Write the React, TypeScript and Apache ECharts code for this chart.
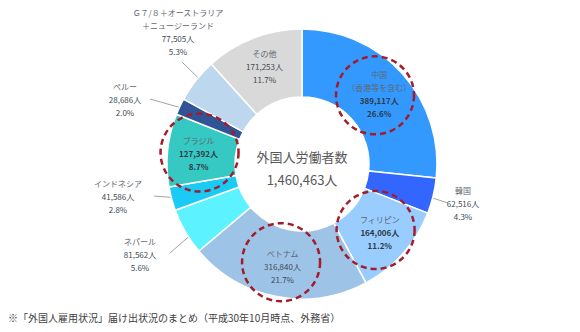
import React, { useEffect, useRef } from 'react';
import * as echarts from 'echarts';

// ---- data ----
const categories = [
  '中国\n（香港等を含む）',
  '韓国',
  'フィリピン',
  'ベトナム',
  'ネパール',
  'インドネシア',
  'ブラジル',
  'ペルー',
  'Ｇ７/８＋オーストラリア\n＋ニュージーランド',
  'その他',
];
const workers = [389117, 62516, 164006, 316840, 81562, 41586, 127392, 28686, 77505, 171253];
const shares = [26.6, 4.3, 11.2, 21.7, 5.6, 2.8, 8.7, 2.0, 5.3, 11.7];
const centerTitle = '外国人労働者数';
const unit = '人';
const footnote = '※「外国人雇用状況」届け出状況のまとめ（平成30年10月時点、外務省）';
const circledNames = ['中国\n（香港等を含む）', 'フィリピン', 'ベトナム', 'ブラジル'];

// ---- styles / layout ----
const COLORS = ['#3399FF', '#3366FF', '#99CCFF', '#9DC3E6', '#5CF2FF', '#1ACBF5', '#36C9C3', '#2F5597', '#BDD7EE', '#D9D9D9'];
const BOLD_NUM = ['中国\n（香港等を含む）', 'フィリピン', 'ブラジル'];
const FONT = "'Noto Sans CJK JP', 'Noto Sans', sans-serif";
const CX = 302;
const CY = 164;
const R0 = 67;
const R1 = 135;
const OUTSIDE: Record<string, { x: number; y: number; lx: number; ly: number; r: number }> = {
  '韓国': { x: 463, y: 203, lx: 448, ly: 203, r: 103 },
  'ネパール': { x: 140, y: 254, lx: 170, ly: 253, r: 103 },
  'インドネシア': { x: 118, y: 196, lx: 154, ly: 196, r: 131 },
  'ペルー': { x: 125, y: 99, lx: 150, ly: 99, r: 130 },
  'Ｇ７/８＋オーストラリア\n＋ニュージーランド': { x: 178, y: 32, lx: 182, ly: 62, r: 102 },
};

const total = workers.reduce((a, b) => a + b, 0);
function midPoint(i: number, r: number): [number, number] {
  const before = workers.slice(0, i).reduce((a, b) => a + b, 0);
  const a = ((before + workers[i] / 2) / total) * 2 * Math.PI;
  return [CX + r * Math.sin(a), CY - r * Math.cos(a)];
}

export default function App() {
  const ref = useRef<HTMLDivElement>(null);
  useEffect(() => {
    if (!ref.current) return;
    const chart = echarts.init(ref.current, undefined, { renderer: 'svg' });
    const circles = circledNames.map((n) => {
      const i = categories.indexOf(n);
      const [x, y] = midPoint(i, (R0 + R1) / 2);
      return {
        type: 'circle',
        shape: { cx: x - 2, cy: y - 1, r: 39 },
        style: { fill: 'none', stroke: '#A31C2B', lineWidth: 2.5, lineDash: [6, 4] },
        z: 100,
      };
    });
    chart.setOption({
      animation: false,
      backgroundColor: '#fff',
      textStyle: { fontFamily: FONT },
      graphic: [
        ...circles,
        {
          type: 'text',
          x: CX,
          y: CY - 8,
          style: { text: centerTitle, fill: '#595959', fontSize: 13, fontFamily: FONT, align: 'center', verticalAlign: 'middle' },
          z: 100,
        },
        {
          type: 'text',
          x: CX,
          y: CY + 15,
          style: { text: total.toLocaleString('en-US') + unit, fill: '#595959', fontSize: 13, fontFamily: FONT, align: 'center', verticalAlign: 'middle' },
          z: 100,
        },
        {
          type: 'text',
          x: 8,
          y: 317,
          style: { text: footnote, fill: '#404040', fontSize: 10, fontFamily: FONT, align: 'left', verticalAlign: 'middle' },
          z: 100,
        },
      ],
      series: [
        {
          type: 'pie',
          center: [CX, CY],
          radius: [R0, R1],
          startAngle: 90,
          clockwise: true,
          avoidLabelOverlap: false,
          itemStyle: { borderColor: '#ffffff', borderWidth: 1.5 },
          label: {
            show: true,
            position: 'inside',
            fontFamily: FONT,
            formatter: (p: any) => {
              const i = p.dataIndex;
              const numStyle = BOLD_NUM.includes(categories[i]) ? 'vb' : 'v';
              return `{n|${categories[i]}}\n{${numStyle}|${workers[i].toLocaleString('en-US')}${unit}}\n{${numStyle}|${shares[i].toFixed(1)}%}`;
            },
            rich: {
              n: { fontSize: 8, color: '#5f6670', lineHeight: 13, fontFamily: FONT },
              v: { fontSize: 8, color: '#404a55', lineHeight: 13, fontFamily: FONT },
              vb: { fontSize: 8, color: '#2f3a48', lineHeight: 13, fontWeight: 'bold', fontFamily: FONT },
            },
          },
          labelLine: { show: true, length: 5, length2: 5, lineStyle: { color: '#8c8c8c', width: 0.8 } },
          labelLayout: (p: any) => {
            const name = categories[p.dataIndex];
            const o = OUTSIDE[name];
            if (!o) return {};
            return {
              x: o.x,
              y: o.y,
              align: 'center',
              verticalAlign: 'middle',
              labelLinePoints: [[o.lx, o.ly], midPoint(p.dataIndex, o.r)],
            };
          },
          data: categories.map((name, i) => ({
            name,
            value: workers[i],
            itemStyle: { color: COLORS[i] },
            label: OUTSIDE[name] ? { position: 'outside' } : { position: 'inside' },
          })),
        },
      ],
    });
    return () => chart.dispose();
  }, []);
  return <div ref={ref} style={{ position: 'absolute', left: 0, top: 0, width: 580, height: 332 }} />;
}
